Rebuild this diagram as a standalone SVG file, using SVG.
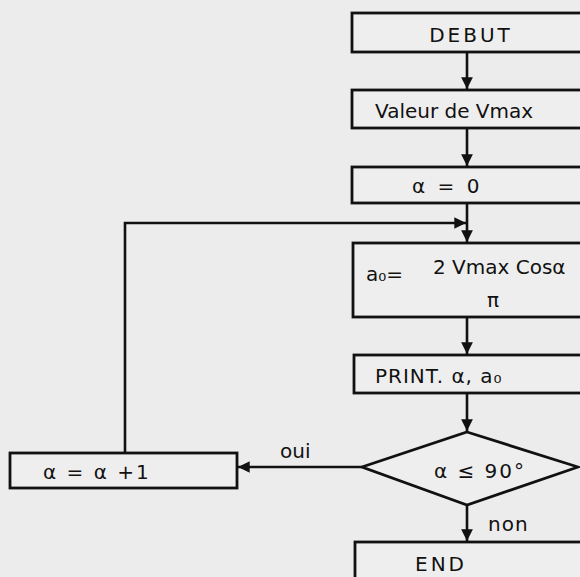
<svg xmlns="http://www.w3.org/2000/svg" width="580" height="577" viewBox="0 0 580 577">
<style>
.bx{fill:#eeeeee;stroke:#111;stroke-width:2.8}
.ln{fill:none;stroke:#111;stroke-width:2.6}
text{font-family:"DejaVu Sans","Liberation Sans",sans-serif;fill:#111;font-size:20px}
</style>
<defs>
<marker id="ah" viewBox="0 0 10 10" refX="10" refY="5" markerWidth="5.5" markerHeight="4.5" markerUnits="strokeWidth" orient="auto">
<path d="M0,0 L10,5 L0,10 Z" fill="#111"/>
</marker>
</defs>
<rect width="580" height="577" fill="#ececec"/>
<g id="connectors">
<line class="ln" x1="467" y1="52" x2="467" y2="89" marker-end="url(#ah)"/>
<line class="ln" x1="467" y1="128" x2="467" y2="166" marker-end="url(#ah)"/>
<line class="ln" x1="467" y1="203" x2="467" y2="242" marker-end="url(#ah)"/>
<polyline class="ln" points="125,453 125,223 466,223" marker-end="url(#ah)"/>
<line class="ln" x1="467" y1="317" x2="467" y2="354" marker-end="url(#ah)"/>
<line class="ln" x1="467" y1="393" x2="467" y2="431" marker-end="url(#ah)"/>
<line class="ln" x1="362" y1="467" x2="238" y2="467" marker-end="url(#ah)"/>
<line class="ln" x1="467" y1="505" x2="467" y2="541" marker-end="url(#ah)"/>
<text x="280" y="458" font-size="19">oui</text>
<text x="488" y="531" font-size="19" letter-spacing="1">non</text>
</g>
<g id="debut">
<rect class="bx" x="352" y="13" width="235" height="39"/>
<text x="471" y="42" text-anchor="middle" letter-spacing="3" font-size="21">DEBUT</text>
</g>
<g id="valeur">
<rect class="bx" x="352" y="90" width="235" height="38"/>
<text x="375" y="118" font-size="22">Valeur de Vmax</text>
</g>
<g id="alpha0">
<rect class="bx" x="352" y="167" width="235" height="36"/>
<text x="412" y="193" font-size="24" letter-spacing="3">α = 0</text>
</g>
<g id="a0">
<rect class="bx" x="353" y="243" width="234" height="74"/>
<text x="366" y="281" font-size="22">a₀=</text>
<text x="433" y="274" font-size="22">2 Vmax Cosα</text>
<text x="487" y="307" font-size="22">π</text>
</g>
<g id="print">
<rect class="bx" x="354" y="355" width="233" height="38"/>
<text x="375" y="383" font-size="22" letter-spacing="1">PRINT. α, a₀</text>
</g>
<g id="decision">
<polygon class="bx" points="467,432 578,467 467,505 362,467"/>
<text x="480" y="478" text-anchor="middle" font-size="26" letter-spacing="2">α ≤ 90°</text>
</g>
<g id="increment">
<rect class="bx" x="10" y="453" width="227" height="35"/>
<text x="43" y="479" font-size="25" letter-spacing="2">α = α +1</text>
</g>
<g id="end">
<rect class="bx" x="355" y="542" width="232" height="45"/>
<text x="415" y="571" letter-spacing="3" font-size="21">END</text>
</g>
</svg>
